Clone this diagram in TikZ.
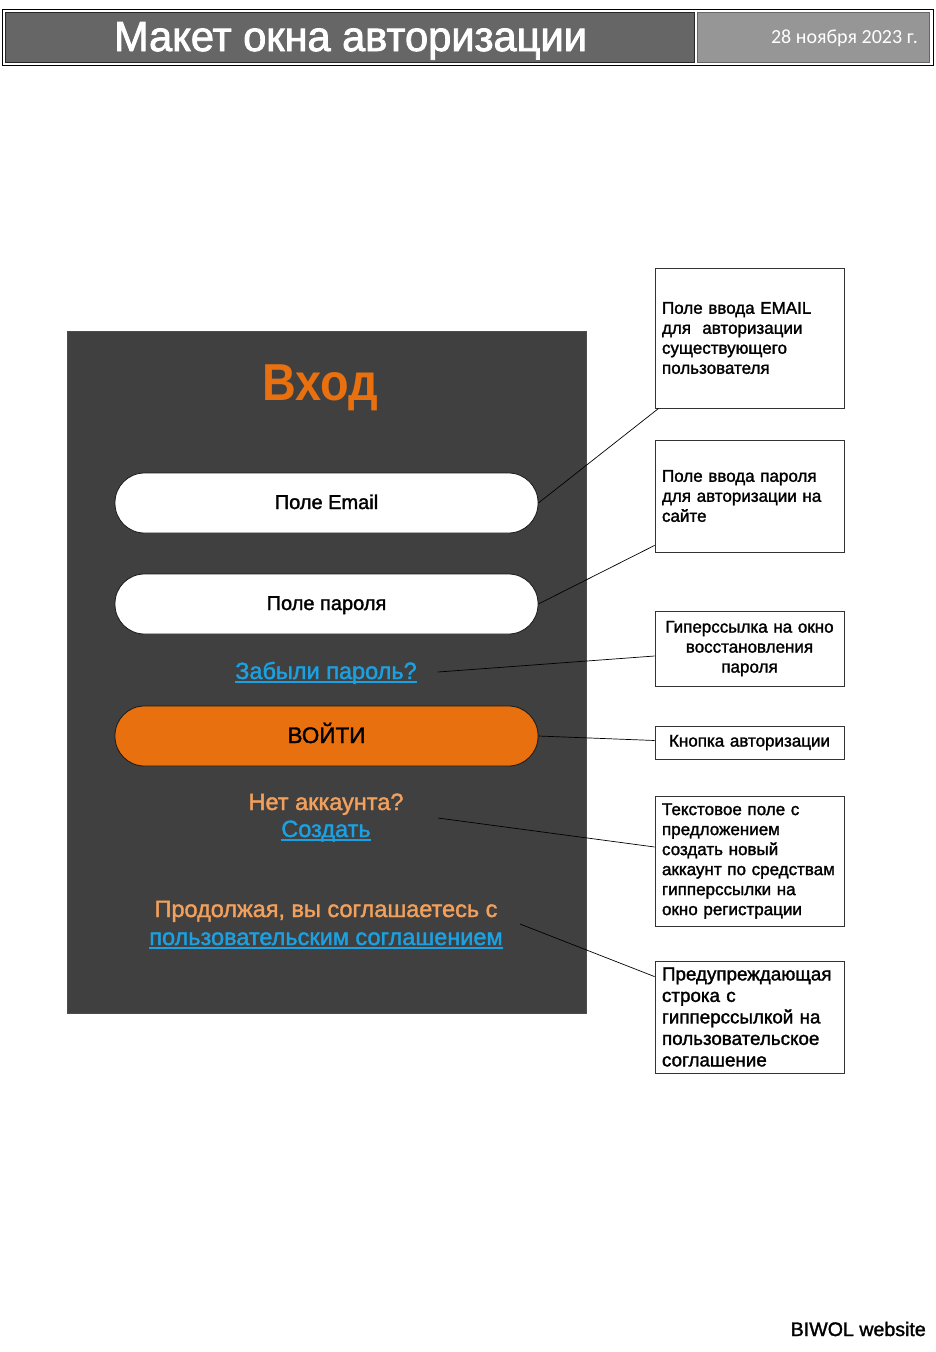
\documentclass[tikz,border=0pt]{standalone}
\usepackage{fontspec}
\setmainfont{Liberation Sans}
\newfontfamily\medfont[RawFeature={embolden=1.6}]{Liberation Sans}
\newfontfamily\condfont[FakeStretch=0.99,RawFeature={embolden=2.0}]{Liberation Sans}
\newfontfamily\vhodfont[FakeStretch=0.9]{Liberation Sans}
\newfontfamily\datefont{Carlito}
\usetikzlibrary{calc}
\definecolor{panel}{HTML}{404040}
\definecolor{orng}{HTML}{E8700E}
\definecolor{lorng}{HTML}{F2A05C}
\definecolor{linkblue}{HTML}{1BA1E2}
\definecolor{hdrdark}{HTML}{666666}
\definecolor{hdrlight}{HTML}{969696}
\newsavebox\myulbox
\newcommand\myul[1]{\sbox\myulbox{#1}\leavevmode\rlap{\usebox\myulbox}\rule[-3.6pt]{\wd\myulbox}{1.3pt}}
\tikzset{
  callout/.style={draw=black!80, fill=white, line width=0.8pt, minimum width=189pt, text width=175pt, inner xsep=7pt, inner ysep=0pt, align=left, font=\medfont\fontsize{17}{20}\selectfont},
  calloutc/.style={callout, align=center},
  field/.style={draw=black!90, line width=0.8pt, rounded corners=29.5pt, minimum width=423pt, minimum height=60pt, inner sep=0pt},
  conn/.style={draw=black, line width=0.7pt},
  fieldtext/.style={inner sep=0pt, anchor=base},
  linktext/.style={text=linkblue, inner sep=0pt, anchor=base, font=\medfont\fontsize{23.5}{23.5}\selectfont},
  plaintext/.style={text=lorng, inner sep=0pt, anchor=base, font=\medfont\fontsize{23.5}{23.5}\selectfont}
}
\begin{document}
\begin{tikzpicture}[x=1pt,y=-1pt]
\useasboundingbox (0,0) rectangle (936,1352);
% header
\node[draw=black, line width=0.9pt, minimum width=931pt, minimum height=56pt, inner sep=0pt] (frame) at (467.5,37) {};
\node[draw=black!85, fill=hdrdark, line width=0.8pt, minimum width=689pt, minimum height=50pt, inner sep=0pt] (titlebox) at (349.5,37) {};
\node[draw=black!60, fill=hdrlight, line width=0.8pt, minimum width=232pt, minimum height=50pt, inner sep=0pt] (datebox) at (813,37) {};
\node[text=white, inner sep=0pt, anchor=base, font=\condfont\fontsize{42}{42}\selectfont] (title) at (350.5,51) {Макет окна авторизации};
\node[text=white, inner sep=0pt, anchor=base east, font=\datefont\fontsize{20}{20}\selectfont] (date) at (918,43) {28 ноября 2023 г.};
% panel
\node[draw=black!70, fill=panel, line width=0.8pt, minimum width=519pt, minimum height=682pt, inner sep=0pt] (panelbox) at (326.5,672) {};
\node[text=orng, inner sep=0pt, anchor=base, font=\vhodfont\bfseries\fontsize{52}{52}\selectfont] (vhod) at (320,400) {Вход};
\node[field, fill=white] (email) at (326.5,503) {};
\node[field, fill=white] (pass) at (326.5,604) {};
\node[field, fill=orng] (login) at (326.5,736) {};
\node[fieldtext, font=\medfont\fontsize{20}{20}\selectfont] (emailtxt) at (326.5,509) {Поле Email};
\node[fieldtext, font=\medfont\fontsize{20}{20}\selectfont] (passtxt) at (326.5,610) {Поле пароля};
\node[fieldtext, font=\medfont\fontsize{22.5}{22.5}\selectfont] (logintxt) at (326.5,743) {ВОЙТИ};
\node[linktext] (forgot) at (326,679) {\myul{Забыли пароль?}};
\node[plaintext] (noacc) at (326,810) {Нет аккаунта?};
\node[linktext] (create) at (326,837) {\myul{Создать}};
\node[plaintext] (agree1) at (326,917) {Продолжая, вы соглашаетесь с};
\node[linktext] (agree2) at (326,945) {\myul{пользовательским соглашением}};
% callouts
\node[callout, minimum height=140pt] (b1) at (749.5,338) {Поле ввода EMAIL\\для\ \ авторизации\\существующего\\пользователя};
\node[callout, minimum height=112pt] (b2) at (749.5,496) {Поле ввода пароля\\для авторизации на\\сайте};
\node[calloutc, minimum height=75pt] (b3) at (749.5,648.5) {Гиперссылка на окно\\восстановления\\пароля};
\node[calloutc, minimum height=33pt] (b4) at (749.5,742.5) {Кнопка авторизации};
\node[callout, minimum height=130pt] (b5) at (749.5,861) {Текстовое поле с\\предложением\\создать новый\\аккаунт по средствам\\гипперссылки на\\окно регистрации};
\node[callout, minimum height=112pt, font=\medfont\fontsize{18.8}{21.5}\selectfont] (b6) at (749.5,1017) {Предупреждающая\\строка с\\гипперссылкой на\\пользовательское\\соглашение};
% connector anchors
\coordinate (c3) at (438,672);
\coordinate (c5) at (438,818);
\coordinate (c6) at (520,924);
\draw[conn] (email.east) -- ($(b1.south west)+(4,0)$);
\draw[conn] (pass.east) -- ($(b2.south west)+(0,-7)$);
\draw[conn] (c3) -- ($(b3.west)+(0,7.5)$);
\draw[conn] (login.east) -- ($(b4.west)+(0,-2)$);
\draw[conn] (c5) -- ($(b5.west)+(0,-14)$);
\draw[conn] (c6) -- ($(b6.north west)+(0,16)$);
% footer
\node[inner sep=0pt, font=\medfont\fontsize{19.6}{19.6}\selectfont, anchor=base east] (footer) at (926,1336) {BIWOL website};
\end{tikzpicture}
\end{document}
